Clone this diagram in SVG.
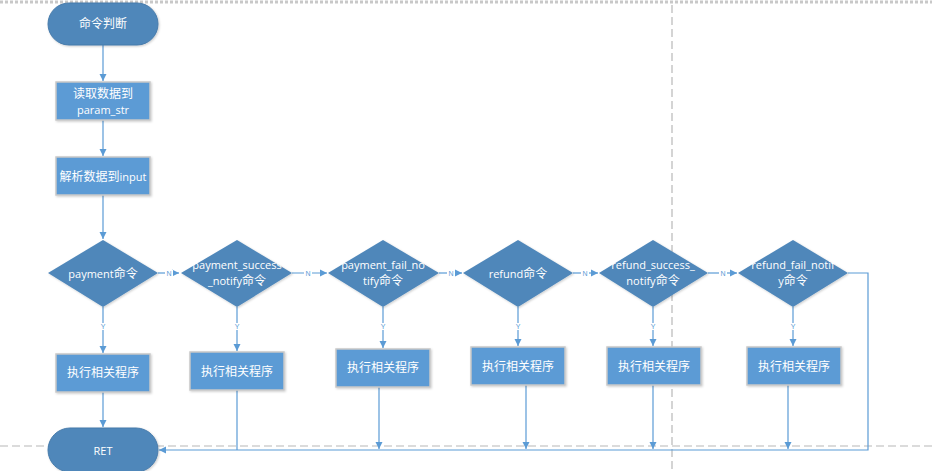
<svg xmlns="http://www.w3.org/2000/svg" width="932" height="471" viewBox="0 0 932 471">
<defs>
<marker id="ah" markerWidth="8" markerHeight="8" refX="7" refY="4" orient="auto" markerUnits="userSpaceOnUse">
<path d="M0,0.5 L7,4 L0,7.5 Z" fill="#5b9bd5"/>
</marker>
<filter id="sh" x="-10%" y="-10%" width="130%" height="130%">
<feDropShadow dx="1" dy="1" stdDeviation="1" flood-color="#000" flood-opacity="0.2"/>
</filter>
</defs>
<style>
.term{fill:#4f87ba;stroke:#477bab;stroke-width:1}
.dia{fill:#4f87ba}
.box{fill:#5b9bd5;stroke:#c8c8c8;stroke-width:1.5}
.t{fill:#fff;font-family:"Open Sans","Noto Sans CJK SC",sans-serif;font-size:11px;text-anchor:middle;dominant-baseline:central}
.z{font-size:12px}
.c{fill:none;stroke:#5b9bd5;stroke-width:1.2}
.lbl{fill:#5b9bd5;font-family:"Liberation Sans",sans-serif;font-size:7px;text-anchor:middle;dominant-baseline:central}
.guide{stroke:#b8b8b8;stroke-width:1.2;stroke-dasharray:8,4;fill:none}
</style>
<rect width="932" height="471" fill="#fff"/>
<g id="guides">
<line x1="0" y1="2" x2="932" y2="2" stroke="#c8c8c8" stroke-width="3" stroke-dasharray="3,2"/>
<line class="guide" x1="672" y1="5" x2="672" y2="471"/>
<line class="guide" x1="0" y1="446" x2="932" y2="446"/>
</g>
<g id="connectors">
<line class="c" x1="103" y1="45" x2="103" y2="81" marker-end="url(#ah)"/>
<line class="c" x1="103" y1="120" x2="103" y2="156" marker-end="url(#ah)"/>
<line class="c" x1="103" y1="195" x2="103" y2="239" marker-end="url(#ah)"/>
<line class="c" x1="158" y1="273" x2="179" y2="273" marker-end="url(#ah)"/>
<line class="c" x1="292" y1="273" x2="327" y2="273" marker-end="url(#ah)"/>
<line class="c" x1="439" y1="273" x2="462" y2="273" marker-end="url(#ah)"/>
<line class="c" x1="573" y1="273" x2="598" y2="273" marker-end="url(#ah)"/>
<line class="c" x1="708" y1="273" x2="737" y2="273" marker-end="url(#ah)"/>
<line class="c" x1="103" y1="307" x2="103" y2="353" marker-end="url(#ah)"/>
<line class="c" x1="237" y1="307" x2="237" y2="351" marker-end="url(#ah)"/>
<line class="c" x1="383" y1="307" x2="383" y2="348" marker-end="url(#ah)"/>
<line class="c" x1="518" y1="307" x2="518" y2="346" marker-end="url(#ah)"/>
<line class="c" x1="653" y1="307" x2="653" y2="346" marker-end="url(#ah)"/>
<line class="c" x1="793" y1="307" x2="793" y2="346" marker-end="url(#ah)"/>
<line class="c" x1="103" y1="392" x2="103" y2="427" marker-end="url(#ah)"/>
<polyline class="c" points="848,273 868,273 868,450 159,450" marker-end="url(#ah)"/>
<line class="c" x1="237" y1="390" x2="237" y2="450"/>
<line class="c" x1="379" y1="387" x2="379" y2="449" marker-end="url(#ah)"/>
<line class="c" x1="526" y1="385" x2="526" y2="449" marker-end="url(#ah)"/>
<line class="c" x1="653" y1="385" x2="653" y2="449" marker-end="url(#ah)"/>
<line class="c" x1="788" y1="385" x2="788" y2="449" marker-end="url(#ah)"/>
<g>
<rect x="165" y="270" width="8" height="7" fill="#fff"/><text class="lbl" x="169" y="273">N</text>
<rect x="304" y="270" width="8" height="7" fill="#fff"/><text class="lbl" x="308" y="273">N</text>
<rect x="447" y="270" width="8" height="7" fill="#fff"/><text class="lbl" x="451" y="273">N</text>
<rect x="581" y="270" width="8" height="7" fill="#fff"/><text class="lbl" x="585" y="273">N</text>
<rect x="719" y="270" width="8" height="7" fill="#fff"/><text class="lbl" x="723" y="273">N</text>
<rect x="99" y="323" width="8" height="7" fill="#fff"/><text class="lbl" x="103" y="326">Y</text>
<rect x="233" y="323" width="8" height="7" fill="#fff"/><text class="lbl" x="237" y="326">Y</text>
<rect x="379" y="323" width="8" height="7" fill="#fff"/><text class="lbl" x="383" y="326">Y</text>
<rect x="514" y="323" width="8" height="7" fill="#fff"/><text class="lbl" x="518" y="326">Y</text>
<rect x="649" y="323" width="8" height="7" fill="#fff"/><text class="lbl" x="653" y="326">Y</text>
<rect x="789" y="323" width="8" height="7" fill="#fff"/><text class="lbl" x="793" y="326">Y</text>
</g>
</g>
<g id="start">
<rect class="term" x="48" y="3" width="110" height="42" rx="21" filter="url(#sh)"/>
<text class="t z" x="103" y="23">命令判断</text>
</g>
<g id="read">
<rect class="box" x="56" y="82" width="94" height="38" filter="url(#sh)"/>
<text class="t z" x="103" y="93">读取数据到</text>
<text class="t" x="103" y="109">param_str</text>
</g>
<g id="parse">
<rect class="box" x="56" y="157" width="94" height="38" filter="url(#sh)"/>
<text class="t" x="103" y="176"><tspan class="z">解析数据到</tspan>input</text>
</g>
<g id="d1">
<polygon class="dia" points="103,240 158,273 103,307 48,273" filter="url(#sh)"/>
<text class="t" x="103" y="273">payment<tspan class="z">命令</tspan></text>
</g>
<g id="d2">
<polygon class="dia" points="237,240 292,273 237,307 181,273" filter="url(#sh)"/>
<text class="t" x="237" y="264">payment_success</text>
<text class="t" x="237" y="280">_notify<tspan class="z">命令</tspan></text>
</g>
<g id="d3">
<polygon class="dia" points="383,240 439,273 383,307 328,273" filter="url(#sh)"/>
<text class="t" x="383" y="264">payment_fail_no</text>
<text class="t" x="383" y="280">tify<tspan class="z">命令</tspan></text>
</g>
<g id="d4">
<polygon class="dia" points="518,240 573,273 518,307 463,273" filter="url(#sh)"/>
<text class="t" x="518" y="273">refund<tspan class="z">命令</tspan></text>
</g>
<g id="d5">
<polygon class="dia" points="653,240 708,273 653,307 599,273" filter="url(#sh)"/>
<text class="t" x="653" y="264">refund_success_</text>
<text class="t" x="653" y="280">notify<tspan class="z">命令</tspan></text>
</g>
<g id="d6">
<polygon class="dia" points="793,240 848,273 793,307 738,273" filter="url(#sh)"/>
<text class="t" x="793" y="264">refund_fail_notif</text>
<text class="t" x="793" y="280">y<tspan class="z">命令</tspan></text>
</g>
<g id="p1">
<rect class="box" x="56" y="354" width="94" height="38" filter="url(#sh)"/>
<text class="t z" x="103" y="372">执行相关程序</text>
</g>
<g id="p2">
<rect class="box" x="190" y="352" width="94" height="38" filter="url(#sh)"/>
<text class="t z" x="237" y="371">执行相关程序</text>
</g>
<g id="p3">
<rect class="box" x="336" y="349" width="94" height="38" filter="url(#sh)"/>
<text class="t z" x="383" y="367">执行相关程序</text>
</g>
<g id="p4">
<rect class="box" x="471" y="347" width="94" height="38" filter="url(#sh)"/>
<text class="t z" x="518" y="366">执行相关程序</text>
</g>
<g id="p5">
<rect class="box" x="607" y="347" width="94" height="38" filter="url(#sh)"/>
<text class="t z" x="654" y="366">执行相关程序</text>
</g>
<g id="p6">
<rect class="box" x="747" y="347" width="94" height="38" filter="url(#sh)"/>
<text class="t z" x="794" y="366">执行相关程序</text>
</g>
<g id="ret">
<rect class="term" x="48" y="428" width="110" height="44" rx="22" filter="url(#sh)"/>
<text class="t" x="103" y="450">RET</text>
</g>
</svg>
